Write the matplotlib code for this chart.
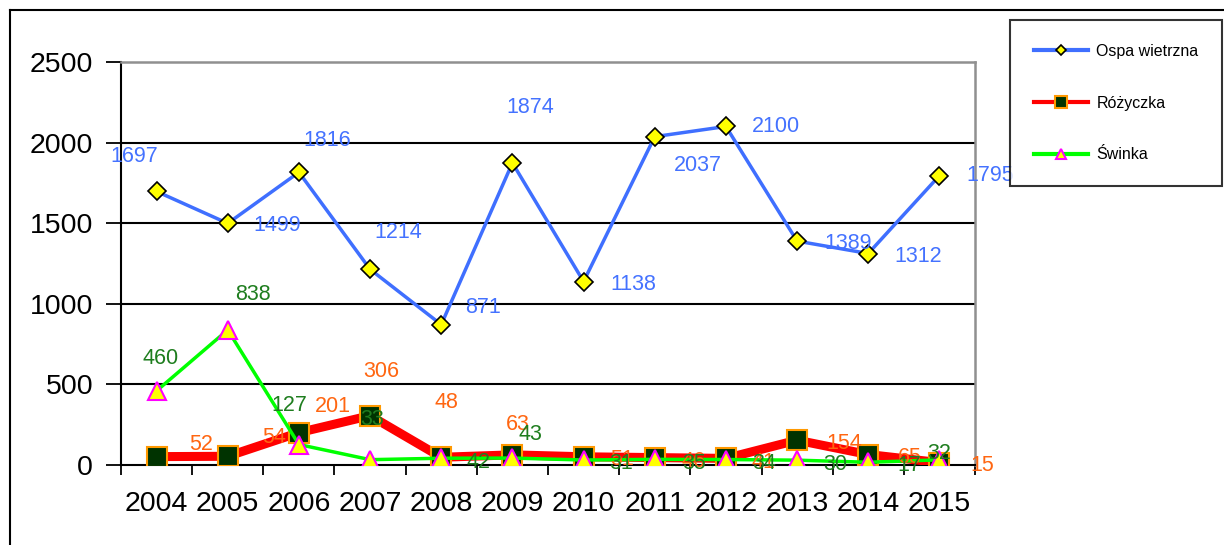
import matplotlib
matplotlib.use('Agg')
import matplotlib.pyplot as plt
from matplotlib.lines import Line2D

#-------------    Dane   --------------------
lata = ['2004', '2005', '2006', '2007', '2008', '2009',
        '2010', '2011', '2012', '2013', '2014', '2015']
ospa = [1697, 1499, 1816, 1214, 871, 1874, 1138, 2037, 2100, 1389, 1312, 1795]
rozyczka = [52, 54, 201, 306, 48, 63, 51, 46, 41, 154, 65, 15]
swinka = [460, 838, 127, 33, 42, 43, 31, 35, 34, 30, 17, 32]

# przesuniecia etykiet (piksele)
off_ospa = [(-22, 35), (49, -2), (28, 32), (28, 37), (42, 17), (18, 55),
            (50, -3), (43, -29), (50, 0), (51, -2), (50, -3), (51, 0)]
off_roz = [(45, 12), (46, 19), (34, 26), (11, 44), (5, 55), (5, 30),
           (38, -3), (39, -4), (38, -4), (47, -3), (42, -3), (43, -3)]
off_swi = [(4, 32), (25, 35), (-10, 39), (2, 40), (37, -4), (18, 24),
           (38, -3), (39, -4), (38, -4), (38, -4), (41, -3), (0, 6)]

plt.rcParams['font.family'] = ['Liberation Sans', 'DejaVu Sans']

W, H = 1224, 545
fig = plt.figure(figsize=(W / 100, H / 100), dpi=100)
ax = fig.add_axes([121 / W, (H - 465) / H, (975 - 121) / W, (465 - 62) / H])

x = list(range(len(lata)))

#Linie:
ax.plot(x, rozyczka, color='#ff0000', lw=6.5, marker='s', ms=15,
        mfc='#003300', mec='#ff9900', mew=1.5, zorder=3, label='Różyczka')
ax.plot(x, swinka, color='#00ff00', lw=2.5, marker='^', ms=13,
        mfc='#ffff00', mec='#ff00ff', mew=1.5, zorder=4, label='Świnka')
ax.plot(x, ospa, color='#3f6fff', lw=2.5, marker='D', ms=9,
        mfc='#ffff00', mec='#000000', mew=1.2, zorder=5, label='Ospa wietrzna')

#Etykiety:
def etykiety(vals, offs, kolor):
    for i, v in enumerate(vals):
        ax.annotate(str(v), (i, v), xytext=offs[i], textcoords='offset pixels',
                    ha='center', va='center', fontsize=15.5, color=kolor,
                    annotation_clip=False, zorder=6)

etykiety(ospa, off_ospa, '#4472ff')
etykiety(rozyczka, off_roz, '#ff6611')
etykiety(swinka, off_swi, '#1e7d1e')

#Osie:
ax.set_xlim(-0.5, len(lata) - 0.5)
ax.set_ylim(0, 2500)
ax.set_yticks(range(0, 2501, 500))
ax.set_xticks(x)
ax.set_xticklabels(lata)
ax.set_xticks([i - 0.5 for i in range(len(lata) + 1)], minor=True)
ax.tick_params(axis='x', which='major', length=0, pad=19, labelsize=20.5)
ax.tick_params(axis='x', which='minor', length=7, width=1.3, direction='out')
ax.tick_params(axis='y', length=11, width=1.3, pad=9, labelsize=20.5)

for v in range(500, 2500, 500):
    ax.axhline(v, color='black', lw=1.5, zorder=1)
ax.spines['top'].set_color('#909090')
ax.spines['right'].set_color('#909090')
ax.spines['top'].set_linewidth(1.8)
ax.spines['right'].set_linewidth(1.8)
ax.spines['left'].set_linewidth(1.5)
ax.spines['bottom'].set_linewidth(1.5)

#Legenda:
h, l = ax.get_legend_handles_labels()
order = [2, 0, 1]
leg = fig.legend([h[i] for i in order], [l[i] for i in order],
                 loc='upper left', bbox_to_anchor=(1010 / W, 1 - 20 / H),
                 fontsize=11.5, frameon=True, fancybox=False, borderpad=1.5,
                 labelspacing=2.3, handlelength=3.4, handletextpad=0.5,
                 borderaxespad=0, markerscale=0.55)
leg.get_frame().set_edgecolor('black')
leg.get_frame().set_linewidth(1.5)
for ln in leg.get_lines():
    ln.set_linewidth(3)

#Ramka:
fig.add_artist(Line2D([10 / W, 1], [1 - 10 / H, 1 - 10 / H], color='black', lw=1.5))
fig.add_artist(Line2D([10 / W, 10 / W], [0, 1 - 10 / H], color='black', lw=1.5))

fig.savefig('out.png', dpi=100)
